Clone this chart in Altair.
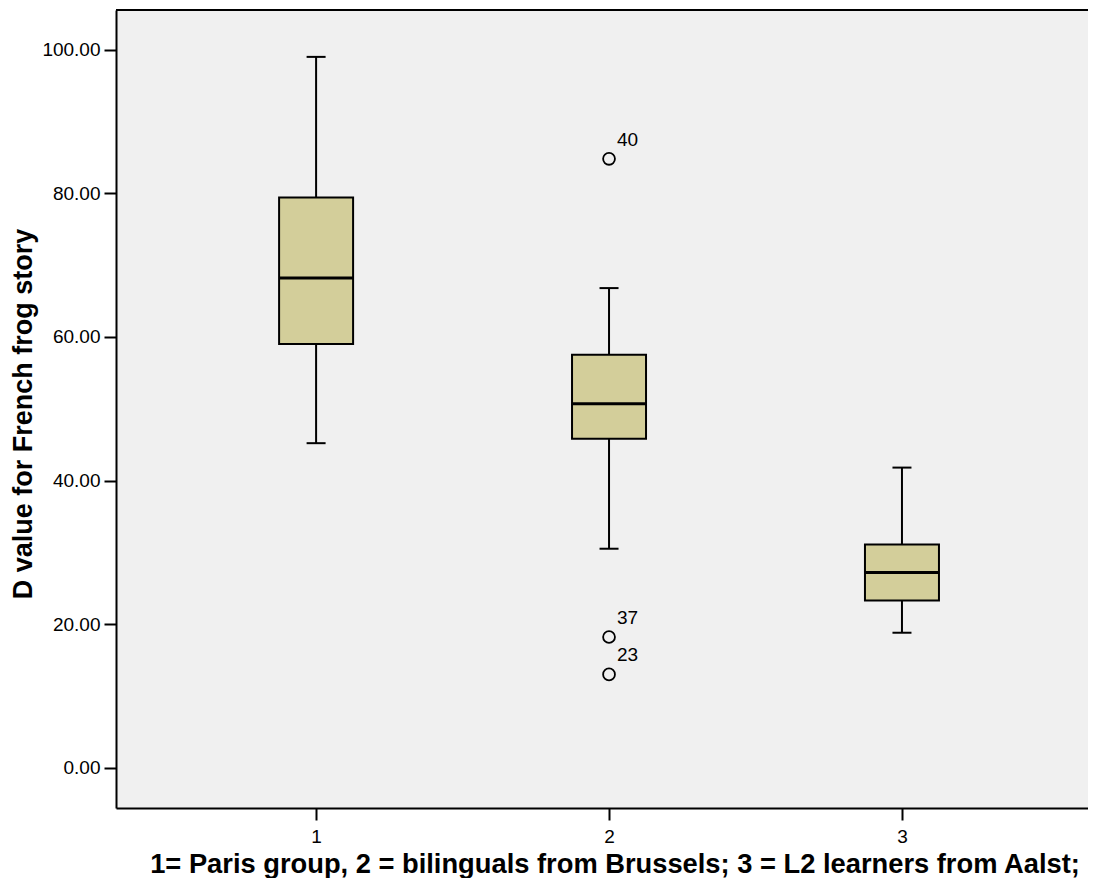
import altair as alt
import pandas as pd

# ---- data ----
groups = [1, 2, 3]
whisker_low = [45.2, 30.5, 18.8]
q1 = [59.0, 45.8, 23.3]
median = [68.2, 50.7, 27.2]
q3 = [79.4, 57.5, 31.1]
whisker_high = [99.0, 66.8, 41.8]

outlier_group = [2, 2, 2]
outlier_value = [84.8, 18.2, 13.0]
outlier_label = ["40", "37", "23"]

x_ticks = [1, 2, 3]
y_ticks = [0, 20, 40, 60, 80, 100]

FONT = "Liberation Sans"
W, H = 972, 798

box_df = pd.DataFrame({
    "group": groups, "wlo": whisker_low, "q1": q1,
    "median": median, "q3": q3, "whi": whisker_high,
})
out_df = pd.DataFrame({"group": outlier_group, "value": outlier_value,
                       "label": outlier_label})

x_scale = alt.Scale(domain=[0.334, 3.618], nice=False, zero=False)
y_scale = alt.Scale(domain=[-5.61, 105.53], nice=False, zero=False)

x_axis = alt.Axis(values=x_ticks, format="d", grid=False, tickSize=12,
                  labelPadding=7, labelFontSize=19, labelFont=FONT,
                  title="1= Paris group, 2 = bilinguals from Brussels; 3 = L2 learners from Aalst;",
                  titleFontSize=27.3, titleFont=FONT, titleFontWeight="bold",
                  titleX=498.5, titleY=64, titleAlign="center",
                  titleBaseline="alphabetic", labelAngle=0)
y_axis = alt.Axis(values=y_ticks, format=".2f", grid=False, tickSize=12,
                  labelPadding=4, labelFontSize=19, labelFont=FONT,
                  title="D value for French frog story",
                  titleFontSize=27, titleFont=FONT, titleFontWeight="bold",
                  titleX=-84.3, titleY=403.5, titleAngle=270,
                  titleAlign="center", titleBaseline="alphabetic")

base = alt.Chart(box_df)

whiskers = base.mark_rule(color="black", strokeWidth=2, opacity=1).encode(
    x=alt.X("group:Q", scale=x_scale, axis=x_axis),
    y=alt.Y("wlo:Q", scale=y_scale, axis=y_axis),
    y2="whi:Q",
)
cap_low = base.mark_tick(color="black", size=19, thickness=2, opacity=1,
                         orient="horizontal").encode(
    x=alt.X("group:Q", scale=x_scale), y=alt.Y("wlo:Q", scale=y_scale))
cap_high = base.mark_tick(color="black", size=19, thickness=2, opacity=1,
                          orient="horizontal").encode(
    x=alt.X("group:Q", scale=x_scale), y=alt.Y("whi:Q", scale=y_scale))
boxes = base.mark_bar(size=74, fill="#D3CE9A", stroke="black",
                      strokeWidth=2, opacity=1).encode(
    x=alt.X("group:Q", scale=x_scale), y=alt.Y("q1:Q", scale=y_scale),
    y2="q3:Q")
medians = base.mark_tick(color="black", size=74, thickness=3, opacity=1,
                         orient="horizontal").encode(
    x=alt.X("group:Q", scale=x_scale), y=alt.Y("median:Q", scale=y_scale))

outliers = alt.Chart(out_df).mark_point(
    shape="circle", filled=False, stroke="black", size=140,
    strokeWidth=1.8, opacity=1).encode(
    x=alt.X("group:Q", scale=x_scale), y=alt.Y("value:Q", scale=y_scale))
out_labels = alt.Chart(out_df).mark_text(
    dx=8, dy=-19, align="left", baseline="middle", fontSize=19,
    font=FONT, color="black").encode(
    x=alt.X("group:Q", scale=x_scale), y=alt.Y("value:Q", scale=y_scale),
    text="label:N")

top_border = alt.Chart(box_df).mark_rule(color="black", strokeWidth=2).encode(
    x=alt.value(0), x2=alt.value(W), y=alt.value(0))

chart = alt.layer(
    whiskers, cap_low, cap_high, boxes, medians, outliers, out_labels, top_border
).properties(
    width=W, height=H,
    background="white",
    autosize=alt.AutoSizeParams(type="none"),
    padding={"left": 108, "top": 2, "right": 0, "bottom": 70},
).configure_view(
    fill="#F0F0F0", stroke="transparent", strokeWidth=0
).configure_axis(
    domainColor="black", domainWidth=2, tickColor="black", tickWidth=2,
    labelColor="black", titleColor="black",
)

chart.save("out.html", embed_options={"renderer": "svg", "actions": False})
